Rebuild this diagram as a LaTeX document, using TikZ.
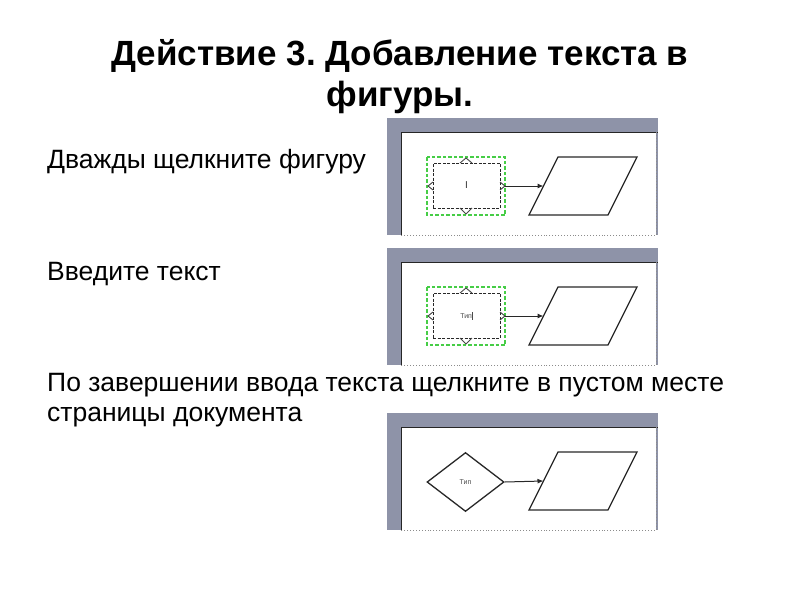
\documentclass[tikz,border=0pt]{standalone}
\usepackage{fontspec}
\setmainfont{Liberation Sans}
\usetikzlibrary{shapes.geometric,arrows.meta}
\frenchspacing
\definecolor{framegray}{RGB}{142,147,168}
\definecolor{selgreen}{RGB}{70,205,70}
\definecolor{shapeline}{RGB}{40,40,40}
\newcommand{\smalltxt}{\fontsize{7}{8}\selectfont\color{black!70}}
\tikzset{
  titletext/.style={inner sep=0pt, font=\bfseries\fontsize{35}{40}\selectfont},
  bodybig/.style={inner sep=0pt, align=left, font=\fontsize{26.5}{30}\selectfont},
  shapeedge/.style={draw=shapeline, line width=1.3pt},
  flowarrow/.style={draw=shapeline, line width=1pt, -{Latex[length=6pt,width=5pt]}},
  selbox/.style={draw=selgreen, line width=1.2pt, dash pattern=on 3.5pt off 2pt},
  innerbox/.style={draw=shapeline, line width=0.9pt, dash pattern=on 3pt off 1.5pt, fill=white, minimum width=67pt, minimum height=45pt, inner sep=0pt},
  handle/.style={draw=shapeline!85, line width=0.9pt},
  tinytext/.style={font=\smalltxt},
}
\newcommand{\screenbg}[1]{%
  \fill[framegray] (387,118) rectangle (658,235);
  \fill[white] (401,132) rectangle (656,235);
  \draw[black!85, line width=1pt] (401,235) -- (401,132) -- (658,132);
  \draw[black!45, line width=0.9pt, dotted] (656,132) -- (656,235) -- (401,235);
  \draw[shapeedge] (558,157) -- (637,157) -- (608,215) -- (529,215) -- cycle;
  \coordinate (#1par) at (543.5,186);
}
\newcommand{\selected}[2]{%
  \draw[selbox] (427,157) rectangle (505,215);
  \node[innerbox] (#1box) at (466.5,185.5) {#2};
  \draw[handle] (460,163) -- (466,158) -- (472,163);
  \draw[handle] (460,208) -- (466,214) -- (472,208);
  \draw[handle] (433,182) -- (428,186) -- (433,190);
  \draw[handle] (500,182) -- (505,186) -- (500,190);
  \coordinate (#1out) at (505,186);
  \draw[flowarrow] (#1out) -- (#1par);
}
\begin{document}
\begin{tikzpicture}[x=1pt,y=-1pt]
\useasboundingbox (0,0) rectangle (800,600);
\fill[white] (0,0) rectangle (800,600);
\node[titletext, anchor=base] (t1) at (400,65) {Действие 3. Добавление текста в};
\node[titletext, anchor=base] (t2) at (400,106) {фигуры.};
\node[bodybig, anchor=base west] (b1) at (47,168) {Дважды щелкните фигуру};
\node[bodybig, anchor=base west] (b2) at (47,280) {Введите текст};
% screen 1
\begin{scope}
  \screenbg{a}
  \selected{a}{\fontsize{10}{10}\selectfont\textcolor{black!80}{I}}
\end{scope}
% screen 2
\begin{scope}[shift={(0,130)}]
  \screenbg{b}
  \selected{b}{\smalltxt Тип\rule[-1pt]{0.7pt}{8pt}}
\end{scope}
% screen 3
\begin{scope}[shift={(0,295)}]
  \screenbg{c}
  \node[shape=diamond, shapeedge, minimum width=77pt, minimum height=59pt, inner sep=0pt, tinytext] (cdia) at (465.5,187) {Тип};
  \draw[flowarrow] (cdia.east) -- (cpar);
\end{scope}
\node[bodybig, anchor=base west] (b3) at (47,421) {По завершении ввода текста щелкните в пустом месте\\страницы документа};
\end{tikzpicture}
\end{document}
